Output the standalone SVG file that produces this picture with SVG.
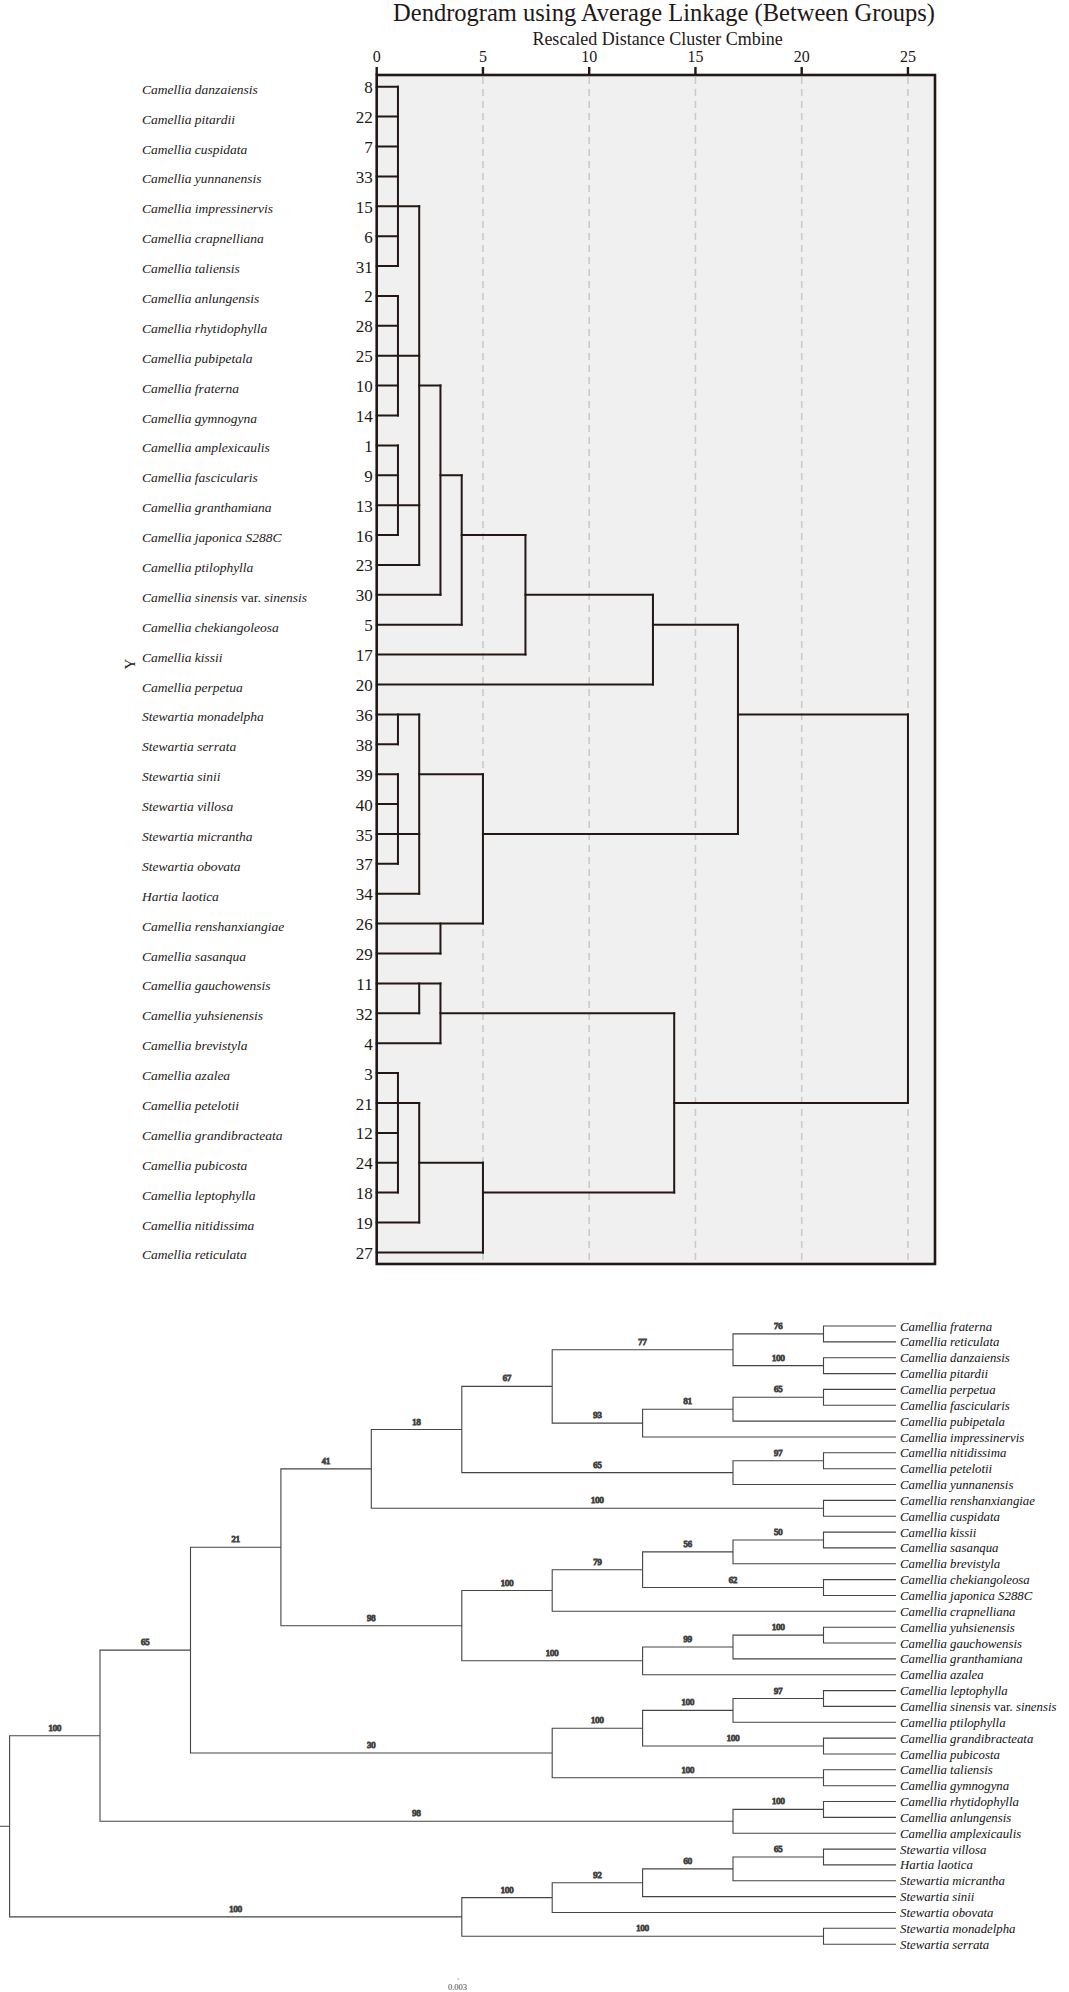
<svg xmlns="http://www.w3.org/2000/svg" width="1069" height="1992" viewBox="0 0 1069 1992">
<style>
.t{font-family:"Liberation Serif","DejaVu Serif",serif;fill:#231815}
.lab{font-family:"Liberation Serif","DejaVu Serif",serif;font-style:italic;font-size:13.5px;fill:#231815}
.num{font-family:"Liberation Serif","DejaVu Serif",serif;font-size:17px;fill:#231815;text-anchor:end}
.tick{font-family:"Liberation Serif","DejaVu Serif",serif;font-size:16px;fill:#231815;text-anchor:middle}
.blab{font-family:"Liberation Serif","DejaVu Serif",serif;font-style:italic;font-size:12.8px;fill:#111}
.bs{font-family:"Liberation Serif","DejaVu Serif",serif;font-size:8.5px;fill:#444;text-anchor:middle}
.up{font-style:normal}
.tree{fill:none;stroke:#231815;stroke-width:2;stroke-linecap:square}
.grid{stroke:#c8c8c8;stroke-width:1.5;stroke-dasharray:7 5}
.btree{fill:none;stroke:#444;stroke-width:1.1}
</style>
<rect width="1069" height="1992" fill="#fff"/>
<g id="title">
<text class="t" x="664" y="20.5" font-size="24.5" text-anchor="middle">Dendrogram using Average Linkage (Between Groups)</text>
<text class="t" x="657.6" y="44.5" font-size="18" text-anchor="middle">Rescaled Distance Cluster Cmbine</text>
</g>
<g id="axis">
<rect x="376.7" y="75" width="558.3" height="1189" fill="#f0f0f0"/>
<line class="grid" x1="482.95" y1="77" x2="482.95" y2="1262"/>
<line class="grid" x1="589.2" y1="77" x2="589.2" y2="1262"/>
<line class="grid" x1="695.45" y1="77" x2="695.45" y2="1262"/>
<line class="grid" x1="801.7" y1="77" x2="801.7" y2="1262"/>
<line class="grid" x1="907.95" y1="77" x2="907.95" y2="1262"/>
<rect x="376.7" y="75" width="558.3" height="1189" fill="none" stroke="#231815" stroke-width="2.6"/>
<path d="M376.7 67V75M482.95 67V75M589.2 67V75M695.45 67V75M801.7 67V75M907.95 67V75" stroke="#231815" stroke-width="2.4"/>
<text class="tick" x="376.7" y="62">0</text>
<text class="tick" x="482.95" y="62">5</text>
<text class="tick" x="589.2" y="62">10</text>
<text class="tick" x="695.45" y="62">15</text>
<text class="tick" x="801.7" y="62">20</text>
<text class="tick" x="907.95" y="62">25</text>
<text class="t" font-size="15" text-anchor="middle" transform="translate(135,664) rotate(-90)">Y</text>
</g>
<g id="top-leaves">
<g id="t8"><text class="lab" x="142" y="93.7">Camellia danzaiensis</text><text class="num" x="372.7" y="93.2">8</text></g>
<g id="t22"><text class="lab" x="142" y="123.6">Camellia pitardii</text><text class="num" x="372.7" y="123.1">22</text></g>
<g id="t7"><text class="lab" x="142" y="153.5">Camellia cuspidata</text><text class="num" x="372.7" y="153">7</text></g>
<g id="t33"><text class="lab" x="142" y="183.4">Camellia yunnanensis</text><text class="num" x="372.7" y="182.9">33</text></g>
<g id="t15"><text class="lab" x="142" y="213.3">Camellia impressinervis</text><text class="num" x="372.7" y="212.8">15</text></g>
<g id="t6"><text class="lab" x="142" y="243.2">Camellia crapnelliana</text><text class="num" x="372.7" y="242.7">6</text></g>
<g id="t31"><text class="lab" x="142" y="273">Camellia taliensis</text><text class="num" x="372.7" y="272.5">31</text></g>
<g id="t2"><text class="lab" x="142" y="302.9">Camellia anlungensis</text><text class="num" x="372.7" y="302.4">2</text></g>
<g id="t28"><text class="lab" x="142" y="332.8">Camellia rhytidophylla</text><text class="num" x="372.7" y="332.3">28</text></g>
<g id="t25"><text class="lab" x="142" y="362.7">Camellia pubipetala</text><text class="num" x="372.7" y="362.2">25</text></g>
<g id="t10"><text class="lab" x="142" y="392.6">Camellia fraterna</text><text class="num" x="372.7" y="392.1">10</text></g>
<g id="t14"><text class="lab" x="142" y="422.5">Camellia gymnogyna</text><text class="num" x="372.7" y="422">14</text></g>
<g id="t1"><text class="lab" x="142" y="452.4">Camellia amplexicaulis</text><text class="num" x="372.7" y="451.9">1</text></g>
<g id="t9"><text class="lab" x="142" y="482.3">Camellia fascicularis</text><text class="num" x="372.7" y="481.8">9</text></g>
<g id="t13"><text class="lab" x="142" y="512.2">Camellia granthamiana</text><text class="num" x="372.7" y="511.7">13</text></g>
<g id="t16"><text class="lab" x="142" y="542.1">Camellia japonica S288C</text><text class="num" x="372.7" y="541.6">16</text></g>
<g id="t23"><text class="lab" x="142" y="571.9">Camellia ptilophylla</text><text class="num" x="372.7" y="571.4">23</text></g>
<g id="t30"><text class="lab" x="142" y="601.8">Camellia sinensis <tspan class="up">var.</tspan> sinensis</text><text class="num" x="372.7" y="601.3">30</text></g>
<g id="t5"><text class="lab" x="142" y="631.7">Camellia chekiangoleosa</text><text class="num" x="372.7" y="631.2">5</text></g>
<g id="t17"><text class="lab" x="142" y="661.6">Camellia kissii</text><text class="num" x="372.7" y="661.1">17</text></g>
<g id="t20"><text class="lab" x="142" y="691.5">Camellia perpetua</text><text class="num" x="372.7" y="691">20</text></g>
<g id="t36"><text class="lab" x="142" y="721.4">Stewartia monadelpha</text><text class="num" x="372.7" y="720.9">36</text></g>
<g id="t38"><text class="lab" x="142" y="751.3">Stewartia serrata</text><text class="num" x="372.7" y="750.8">38</text></g>
<g id="t39"><text class="lab" x="142" y="781.2">Stewartia sinii</text><text class="num" x="372.7" y="780.7">39</text></g>
<g id="t40"><text class="lab" x="142" y="811.1">Stewartia villosa</text><text class="num" x="372.7" y="810.6">40</text></g>
<g id="t35"><text class="lab" x="142" y="841">Stewartia micrantha</text><text class="num" x="372.7" y="840.5">35</text></g>
<g id="t37"><text class="lab" x="142" y="870.8">Stewartia obovata</text><text class="num" x="372.7" y="870.3">37</text></g>
<g id="t34"><text class="lab" x="142" y="900.7">Hartia laotica</text><text class="num" x="372.7" y="900.2">34</text></g>
<g id="t26"><text class="lab" x="142" y="930.6">Camellia renshanxiangiae</text><text class="num" x="372.7" y="930.1">26</text></g>
<g id="t29"><text class="lab" x="142" y="960.5">Camellia sasanqua</text><text class="num" x="372.7" y="960">29</text></g>
<g id="t11"><text class="lab" x="142" y="990.4">Camellia gauchowensis</text><text class="num" x="372.7" y="989.9">11</text></g>
<g id="t32"><text class="lab" x="142" y="1020.3">Camellia yuhsienensis</text><text class="num" x="372.7" y="1019.8">32</text></g>
<g id="t4"><text class="lab" x="142" y="1050.2">Camellia brevistyla</text><text class="num" x="372.7" y="1049.7">4</text></g>
<g id="t3"><text class="lab" x="142" y="1080.1">Camellia azalea</text><text class="num" x="372.7" y="1079.6">3</text></g>
<g id="t21"><text class="lab" x="142" y="1110">Camellia petelotii</text><text class="num" x="372.7" y="1109.5">21</text></g>
<g id="t12"><text class="lab" x="142" y="1139.9">Camellia grandibracteata</text><text class="num" x="372.7" y="1139.4">12</text></g>
<g id="t24"><text class="lab" x="142" y="1169.7">Camellia pubicosta</text><text class="num" x="372.7" y="1169.2">24</text></g>
<g id="t18"><text class="lab" x="142" y="1199.6">Camellia leptophylla</text><text class="num" x="372.7" y="1199.1">18</text></g>
<g id="t19"><text class="lab" x="142" y="1229.5">Camellia nitidissima</text><text class="num" x="372.7" y="1229">19</text></g>
<g id="t27"><text class="lab" x="142" y="1259.4">Camellia reticulata</text><text class="num" x="372.7" y="1258.9">27</text></g>
</g>
<g id="top-connectors" class="tree">
<path d="M376.7 86.7H397.95M376.7 116.6H397.95M376.7 146.5H397.95M376.7 176.4H397.95M376.7 206.3H419.2M376.7 236.2H397.95M376.7 266H397.95
M376.7 295.9H397.95M376.7 325.8H397.95M376.7 355.7H419.2M376.7 385.6H397.95M376.7 415.5H397.95
M376.7 445.4H397.95M376.7 475.3H397.95M376.7 505.2H419.2M376.7 535.1H397.95M376.7 564.9H419.2
M376.7 594.8H440.45M376.7 624.7H461.7M376.7 654.6H525.45M376.7 684.5H652.95
M376.7 714.4H419.2M376.7 744.3H397.95M376.7 774.2H397.95M376.7 804.1H397.95M376.7 834H419.2M376.7 863.8H397.95M376.7 893.7H419.2M376.7 923.6H482.95M376.7 953.5H440.45
M376.7 983.4H440.45M376.7 1013.3H419.2M376.7 1043.2H440.45
M376.7 1073.1H397.95M376.7 1103H419.2M376.7 1132.9H397.95M376.7 1162.7H397.95M376.7 1192.6H397.95M376.7 1222.5H419.2M376.7 1252.4H482.95"/>
<path d="M419.2 385.6H440.45M440.45 475.3H461.7M461.7 535.1H525.45M525.45 594.8H652.95M652.95 624.7H737.95
M419.2 774.2H482.95M482.95 834H737.95M737.95 714.4H907.95
M440.45 1013.3H674.2M419.2 1162.7H482.95M482.95 1192.6H674.2M674.2 1103H907.95"/>
<path d="M397.95 86.7V266M397.95 295.9V415.5M397.95 445.4V535.1M397.95 714.4V744.3M397.95 774.2V863.8M397.95 1073.1V1192.6
M419.2 206.3V564.9M419.2 714.4V893.7M419.2 983.4V1013.3M419.2 1103V1222.5
M440.45 385.6V594.8M440.45 923.6V953.5M440.45 983.4V1043.2
M461.7 475.3V624.7M482.95 774.2V923.6M482.95 1162.7V1252.4
M525.45 535.1V654.6M652.95 594.8V684.5M674.2 1013.3V1192.6M737.95 624.7V834M907.95 714.4V1103"/>
</g>
<g id="bottom-leaves">
<g id="b1"><text class="blab" x="900" y="1330.5">Camellia fraterna</text></g>
<g id="b2"><text class="blab" x="900" y="1346.4">Camellia reticulata</text></g>
<g id="b3"><text class="blab" x="900" y="1362.2">Camellia danzaiensis</text></g>
<g id="b4"><text class="blab" x="900" y="1378.1">Camellia pitardii</text></g>
<g id="b5"><text class="blab" x="900" y="1393.9">Camellia perpetua</text></g>
<g id="b6"><text class="blab" x="900" y="1409.8">Camellia fascicularis</text></g>
<g id="b7"><text class="blab" x="900" y="1425.6">Camellia pubipetala</text></g>
<g id="b8"><text class="blab" x="900" y="1441.5">Camellia impressinervis</text></g>
<g id="b9"><text class="blab" x="900" y="1457.3">Camellia nitidissima</text></g>
<g id="b10"><text class="blab" x="900" y="1473.2">Camellia petelotii</text></g>
<g id="b11"><text class="blab" x="900" y="1489">Camellia yunnanensis</text></g>
<g id="b12"><text class="blab" x="900" y="1504.9">Camellia renshanxiangiae</text></g>
<g id="b13"><text class="blab" x="900" y="1520.7">Camellia cuspidata</text></g>
<g id="b14"><text class="blab" x="900" y="1536.6">Camellia kissii</text></g>
<g id="b15"><text class="blab" x="900" y="1552.4">Camellia sasanqua</text></g>
<g id="b16"><text class="blab" x="900" y="1568.3">Camellia brevistyla</text></g>
<g id="b17"><text class="blab" x="900" y="1584.1">Camellia chekiangoleosa</text></g>
<g id="b18"><text class="blab" x="900" y="1600">Camellia japonica S288C</text></g>
<g id="b19"><text class="blab" x="900" y="1615.8">Camellia crapnelliana</text></g>
<g id="b20"><text class="blab" x="900" y="1631.7">Camellia yuhsienensis</text></g>
<g id="b21"><text class="blab" x="900" y="1647.5">Camellia gauchowensis</text></g>
<g id="b22"><text class="blab" x="900" y="1663.4">Camellia granthamiana</text></g>
<g id="b23"><text class="blab" x="900" y="1679.2">Camellia azalea</text></g>
<g id="b24"><text class="blab" x="900" y="1695.1">Camellia leptophylla</text></g>
<g id="b25"><text class="blab" x="900" y="1710.9">Camellia sinensis <tspan class="up">var.</tspan> sinensis</text></g>
<g id="b26"><text class="blab" x="900" y="1726.8">Camellia ptilophylla</text></g>
<g id="b27"><text class="blab" x="900" y="1742.6">Camellia grandibracteata</text></g>
<g id="b28"><text class="blab" x="900" y="1758.5">Camellia pubicosta</text></g>
<g id="b29"><text class="blab" x="900" y="1774.3">Camellia taliensis</text></g>
<g id="b30"><text class="blab" x="900" y="1790.2">Camellia gymnogyna</text></g>
<g id="b31"><text class="blab" x="900" y="1806">Camellia rhytidophylla</text></g>
<g id="b32"><text class="blab" x="900" y="1821.9">Camellia anlungensis</text></g>
<g id="b33"><text class="blab" x="900" y="1837.7">Camellia amplexicaulis</text></g>
<g id="b34"><text class="blab" x="900" y="1853.6">Stewartia villosa</text></g>
<g id="b35"><text class="blab" x="900" y="1869.4">Hartia laotica</text></g>
<g id="b36"><text class="blab" x="900" y="1885.3">Stewartia micrantha</text></g>
<g id="b37"><text class="blab" x="900" y="1901.1">Stewartia sinii</text></g>
<g id="b38"><text class="blab" x="900" y="1917">Stewartia obovata</text></g>
<g id="b39"><text class="blab" x="900" y="1932.8">Stewartia monadelpha</text></g>
<g id="b40"><text class="blab" x="900" y="1948.7">Stewartia serrata</text></g>
</g>
<g id="bottom-connectors" class="btree">
<path d="M896 1326H823.5V1341.9H896M896 1357.7H823.5V1373.6H896M823.5 1333.9H733V1365.6H823.5
M896 1389.4H823.5V1405.3H896M823.5 1397.3H733V1421.1H896M733 1409.2H642.6V1437H896M733 1349.8H552.2V1423.1H642.6
M896 1452.8H823.5V1468.7H896M823.5 1460.7H733V1484.5H896M552.2 1386.4H461.8V1472.6H733
M896 1500.4H823.5V1516.2H896M461.8 1429.5H371.3V1508.3H823.5
M896 1532.1H823.5V1547.9H896M823.5 1540H733V1563.8H896M896 1579.6H823.5V1595.5H896M733 1551.9H642.6V1587.5H823.5M642.6 1569.7H552.2V1611.3H896
M896 1627.2H823.5V1643H896M823.5 1635.1H733V1658.9H896M733 1647H642.6V1674.7H896M552.2 1590.5H461.8V1660.8H642.6
M371.3 1468.9H280.9V1625.7H461.8
M896 1690.6H823.5V1706.4H896M823.5 1698.5H733V1722.3H896M896 1738.1H823.5V1754H896M733 1710.4H642.6V1746H823.5
M896 1769.8H823.5V1785.7H896M642.6 1728.2H552.2V1777.7H823.5M280.9 1547.3H190.5V1753H552.2
M896 1801.5H823.5V1817.4H896M823.5 1809.4H733V1833.2H896M190.5 1650.1H100V1821.3H733
M896 1849.1H823.5V1864.9H896M823.5 1857H733V1880.8H896M733 1868.9H642.6V1896.6H896M642.6 1882.7H552.2V1912.5H896
M896 1928.3H823.5V1944.2H896M552.2 1897.6H461.8V1936.2H823.5
M100 1735.7H9.6V1916.9H461.8M0 1826.3H9.6"/>
<text class="bs" x="778.3" y="1329">76</text>
<text class="bs" x="778.3" y="1360.6">100</text>
<text class="bs" x="642.6" y="1344.8">77</text>
<text class="bs" x="778.3" y="1392.3">65</text>
<text class="bs" x="687.8" y="1404.2">81</text>
<text class="bs" x="597.4" y="1418.1">93</text>
<text class="bs" x="507" y="1381.4">67</text>
<text class="bs" x="778.3" y="1455.7">97</text>
<text class="bs" x="597.4" y="1467.6">65</text>
<text class="bs" x="416.5" y="1424.5">18</text>
<text class="bs" x="597.4" y="1503.3">100</text>
<text class="bs" x="326.1" y="1463.9">41</text>
<text class="bs" x="778.3" y="1535">50</text>
<text class="bs" x="687.8" y="1546.9">56</text>
<text class="bs" x="733" y="1582.5">62</text>
<text class="bs" x="597.4" y="1564.7">79</text>
<text class="bs" x="507" y="1585.5">100</text>
<text class="bs" x="778.3" y="1630.1">100</text>
<text class="bs" x="687.8" y="1642">99</text>
<text class="bs" x="552.2" y="1655.8">100</text>
<text class="bs" x="371.3" y="1620.7">98</text>
<text class="bs" x="235.7" y="1542.3">21</text>
<text class="bs" x="778.3" y="1693.5">97</text>
<text class="bs" x="687.8" y="1705.4">100</text>
<text class="bs" x="733" y="1741">100</text>
<text class="bs" x="597.4" y="1723.2">100</text>
<text class="bs" x="687.8" y="1772.7">100</text>
<text class="bs" x="371.3" y="1748">30</text>
<text class="bs" x="145.2" y="1645.1">65</text>
<text class="bs" x="778.3" y="1804.4">100</text>
<text class="bs" x="416.5" y="1816.3">98</text>
<text class="bs" x="54.8" y="1730.7">100</text>
<text class="bs" x="778.3" y="1852">65</text>
<text class="bs" x="687.8" y="1863.9">60</text>
<text class="bs" x="597.4" y="1877.7">92</text>
<text class="bs" x="507" y="1892.6">100</text>
<text class="bs" x="642.6" y="1931.2">100</text>
<text class="bs" x="235.7" y="1911.9">100</text>
</g>
<g id="scale">
<line x1="457.5" y1="1979" x2="459" y2="1979" stroke="#888" stroke-width="1"/>
<text class="bs" x="457.5" y="1990" font-size="7" fill="#555">0.003</text>
</g>
</svg>
